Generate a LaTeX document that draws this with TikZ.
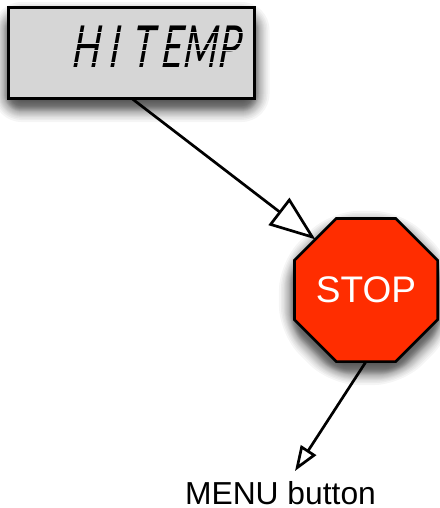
\documentclass[tikz,border=0pt]{standalone}
\usepackage{fontspec}
\setmainfont{Liberation Sans}
\newfontfamily\lcdfont[FakeSlant=0.18,FakeStretch=0.64]{Lato}
\newcommand{\lcdcell}[1]{\makebox[28.6pt][c]{#1}}
\usetikzlibrary{arrows.meta,shapes.geometric}
\definecolor{lcdgray}{HTML}{D6D6D6}
\definecolor{stopred}{HTML}{FF2D00}
\tikzset{
  conn/.style={draw=black,line width=2.7pt},
  lcdbox/.style={draw=black,line width=2.7pt,fill=lcdgray,inner sep=0pt,outer sep=0pt,minimum width=246pt,minimum height=90.5pt},
  octa/.style={regular polygon,regular polygon sides=8,draw=black,line width=2.7pt,fill=stopred,inner sep=0pt,outer sep=0pt,minimum size=155pt,text=white,font=\fontsize{37}{37}\selectfont},
  bighead/.style={-{Triangle[length=46pt,width=34pt,fill=white,line width=2.7pt]}},
  smallhead/.style={-{Triangle[length=25pt,width=18pt,fill=white,line width=2.7pt]}},
  shadowlayer/.style={fill=black,fill opacity=0.038},
  lcdcut/.style={draw=lcdgray,line width=1pt}
}
\begin{document}
\begin{tikzpicture}[x=1pt,y=-1pt]
\useasboundingbox (0,0) rectangle (439,508);
% soft shadows
\foreach \e in {15,13,11.5,10,9,8,7,6,5,4.5,4,3.5,3,2.5,2,1.5,1,0.5,0,-0.5,-1,-2,-3,-4,-5,-6,-7,-8,-9,-10}{
  \pgfmathsetmacro{\rr}{max(1,\e+13)}
  \pgfmathsetmacro{\ro}{78+1.08*\e}
  \path[shadowlayer,rounded corners=\rr pt] (8.5-\e,17-\e) rectangle (254.5+\e,107+\e);
  \path[shadowlayer,rounded corners=\rr pt,shift={(366,298)}] (22.5:\ro) -- (67.5:\ro) -- (112.5:\ro) -- (157.5:\ro) -- (202.5:\ro) -- (247.5:\ro) -- (292.5:\ro) -- (337.5:\ro) -- cycle;
}
\node[lcdbox] (box) at (131.5,53) {};
\node[anchor=base east,inner sep=0pt,font=\fontsize{58}{58}\lcdfont] (lcd) at (242,68) {\lcdcell{H}\lcdcell{I}\lcdcell{T}\lcdcell{E}\lcdcell{M}\lcdcell{P}};
\foreach \y in {32.5,44,51,63}{
  \draw[lcdcut] (64,\y) -- (250,\y);
}
\node[octa] (stop) at (366,290) {STOP};
\node[inner sep=0pt,font=\fontsize{31.8}{32}\selectfont] (menu) at (280.5,493) {MENU button};
\coordinate (menutip) at (295,471);
\draw[conn,bighead] (box.south) -- (stop.135);
\draw[conn,smallhead] (stop.south) -- (menutip);
\end{tikzpicture}
\end{document}
